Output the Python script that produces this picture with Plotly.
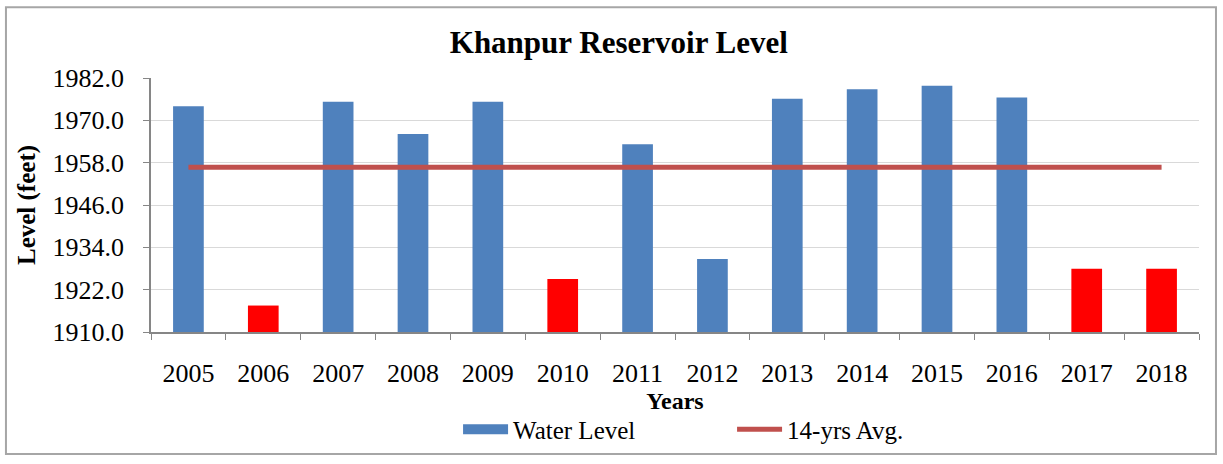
import plotly.graph_objects as go

YEARS = ["2005", "2006", "2007", "2008", "2009", "2010", "2011",
         "2012", "2013", "2014", "2015", "2016", "2017", "2018"]
WATER_LEVEL = [1974.0, 1917.5, 1975.3, 1966.1, 1975.3, 1925.0, 1963.2,
               1930.7, 1976.1, 1978.8, 1979.8, 1976.5, 1927.9, 1927.9]
AVG_LEVEL = 1956.7
DRY_YEARS = ["2006", "2010", "2017", "2018"]
Y_TICKS = [1910, 1922, 1934, 1946, 1958, 1970, 1982]

COLOR_BAR = "#4F81BD"
COLOR_DRY = "#FF0000"
COLOR_AVG = "#C0504D"
FONT = "Liberation Serif, Times New Roman, serif"

bar_colors = [COLOR_DRY if y in DRY_YEARS else COLOR_BAR for y in YEARS]

fig = go.Figure()
fig.add_trace(go.Bar(
    x=YEARS,
    y=[v - Y_TICKS[0] for v in WATER_LEVEL],
    base=Y_TICKS[0],
    name="Water Level",
    marker=dict(color=bar_colors, line_width=0),
    showlegend=False,
))
# legend entry drawn as a wide block like the original
fig.add_trace(go.Scatter(
    x=[None], y=[None],
    mode="lines",
    name="Water Level",
    line=dict(color=COLOR_BAR, width=13),
))
fig.add_trace(go.Scatter(
    x=YEARS,
    y=[AVG_LEVEL] * len(YEARS),
    mode="lines",
    name="14-yrs Avg.",
    line=dict(color=COLOR_AVG, width=5),
))

fig.update_layout(
    width=1223,
    height=464,
    margin=dict(l=151, r=24, t=78, b=128),
    paper_bgcolor="white",
    plot_bgcolor="white",
    font=dict(family=FONT, size=26, color="#000000"),
    title=dict(
        text="<b>Khanpur Reservoir Level</b>",
        x=0.506, xanchor="center", y=0.909, yanchor="middle",
        font=dict(size=31),
    ),
    bargap=0.59,
    showlegend=True,
    legend=dict(
        orientation="h",
        x=0.293, xanchor="left",
        y=-0.384, yanchor="middle",
        font=dict(size=25),
        entrywidth=214,
        entrywidthmode="pixels",
        itemwidth=45,
        bgcolor="rgba(0,0,0,0)",
    ),
    shapes=[dict(
        type="rect", xref="paper", yref="paper",
        x0=-0.1384, x1=1.0162, y0=-0.48, y1=1.279,
        line=dict(color="#A6A6A6", width=2),
        layer="below",
    )],
)

fig.update_xaxes(
    type="category",
    showline=True, linecolor="#868686", linewidth=1.5,
    ticks="outside", tickson="boundaries", ticklen=6, tickcolor="#868686",
    showgrid=False,
    tickfont=dict(size=26),
    ticklabelstandoff=17,
    automargin=False,
    title=dict(text="<b>Years</b>", font=dict(size=24), standoff=3),
)
fig.update_yaxes(
    range=[Y_TICKS[0], Y_TICKS[-1]],
    tickvals=Y_TICKS,
    tickformat=".1f",
    showline=True, linecolor="#868686", linewidth=1.5,
    ticks="outside", ticklen=6, tickcolor="#868686",
    showgrid=True, gridcolor="#D9D9D9", gridwidth=1,
    zeroline=False,
    tickfont=dict(size=26),
    ticklabelstandoff=14,
    automargin=False,
    title=dict(text="<b>Level (feet)</b>", font=dict(size=25), standoff=10),
)

fig.write_html(
    "out.html",
    config={"displayModeBar": False},
    post_script="document.body.style.margin='0';",
)
